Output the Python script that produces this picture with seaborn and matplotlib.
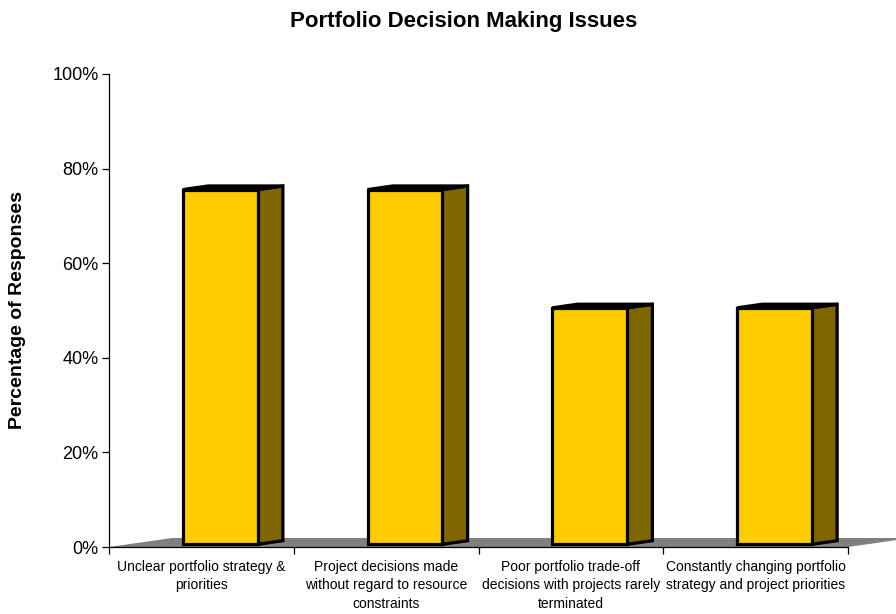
import matplotlib
matplotlib.use("Agg")
import matplotlib.pyplot as plt
from matplotlib.patches import Polygon
import seaborn as sns
import pandas as pd

# ---- data ----
categories = [
    "Unclear portfolio strategy &\npriorities",
    "Project decisions made\nwithout regard to resource\nconstraints",
    "Poor portfolio trade-off\ndecisions with projects rarely\nterminated",
    "Constantly changing portfolio\nstrategy and project priorities",
]
values = [75, 75, 50, 50]
y_ticks = [0, 20, 40, 60, 80, 100]
y_tick_labels = ["0%", "20%", "40%", "60%", "80%", "100%"]
title = "Portfolio Decision Making Issues"
y_label = "Percentage of Responses"

# ---- style ----
sns.set_style("ticks")
plt.rcParams["font.family"] = ["Liberation Sans", "DejaVu Sans"]
plt.rcParams["text.color"] = "black"
plt.rcParams["xtick.color"] = "black"
plt.rcParams["ytick.color"] = "black"
plt.rcParams["axes.labelcolor"] = "black"

FRONT = "#FFCC00"
SIDE = "#806600"
TOP = "#000000"
FLOOR = "#808080"

W, H = 896, 614
fig = plt.figure(figsize=(W / 100, H / 100), dpi=100)
ax = fig.add_axes([109 / W, 67 / H, 739 / W, 473 / H])

df = pd.DataFrame({"cat": categories, "val": values})
sns.barplot(data=df, x="cat", y="val", color=FRONT, saturation=1,
            edgecolor="black", linewidth=2.3, width=0.405, ax=ax, zorder=3)

ax.set_xlim(-0.5, 3.5)
ax.set_ylim(0, 100)

# depth geometry (in data units)
DX = 63 / 184.75     # full floor depth in x
DY = 9 / 4.73        # full floor depth in y (percent)
ox, oy = 0.3 * DX, 0.3 * DY
bx, by = 0.4 * DX, 0.4 * DY

# floor
floor = Polygon([(-0.5, 0), (3.5, 0), (3.5 + DX, DY), (-0.5 + DX, DY)],
                closed=True, facecolor=FLOOR, edgecolor="none",
                zorder=1, clip_on=False)
ax.add_patch(floor)

for p in list(ax.patches):
    if p is floor:
        continue
    x0 = p.get_x() + ox
    w = p.get_width()
    h = p.get_height()
    p.set_x(x0)
    p.set_y(oy)
    p.set_joinstyle("miter")
    p.set_clip_on(False)
    side = Polygon([(x0 + w, oy), (x0 + w + bx, oy + by),
                    (x0 + w + bx, oy + h + by), (x0 + w, oy + h)],
                   closed=True, facecolor=SIDE, edgecolor="black",
                   linewidth=2.3, joinstyle="miter", zorder=2.9, clip_on=False)
    top = Polygon([(x0, oy + h), (x0 + w, oy + h),
                   (x0 + w + bx, oy + h + by), (x0 + bx, oy + h + by)],
                  closed=True, facecolor=TOP, edgecolor="black",
                  linewidth=2.3, joinstyle="miter", zorder=2.9, clip_on=False)
    ax.add_patch(side)
    ax.add_patch(top)

# axes styling
for s in ["top", "right"]:
    ax.spines[s].set_visible(False)
for s in ["left", "bottom"]:
    ax.spines[s].set_color("black")
    ax.spines[s].set_linewidth(0.9)
    ax.spines[s].set_zorder(4)

ax.set_yticks(y_ticks)
ax.set_yticklabels(y_tick_labels, fontsize=13, color="black")
ax.tick_params(axis="y", direction="out", length=5, width=0.9, pad=2.5,
               colors="black")

ax.set_xticks([-0.5, 0.5, 1.5, 2.5, 3.5])
ax.set_xticklabels([""] * 5)
ax.tick_params(axis="x", which="major", direction="out", length=5, width=0.9,
               colors="black")
ax.set_xticks([0, 1, 2, 3], minor=True)
ax.set_xticklabels(categories, minor=True, fontsize=10, linespacing=1.45,
                   color="black")
ax.tick_params(axis="x", which="minor", length=0, pad=9)

ax.set_xlabel("")
ax.set_ylabel("")
ax.grid(False)

fig.text(463.5 / W, 1 - 22 / H, title, ha="center", va="center",
         fontsize=16, fontweight="bold", color="black")
fig.text(18 / W, 1 - 310 / H, y_label, ha="center", va="center",
         rotation=90, fontsize=14, fontweight="bold", color="black")

fig.savefig("out.png", dpi=100, facecolor="white")
